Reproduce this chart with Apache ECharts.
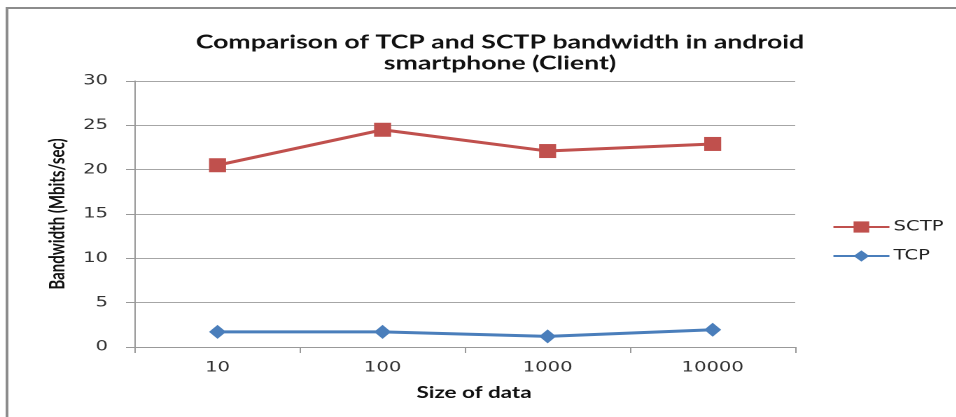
<!DOCTYPE html>
<html><head><meta charset="utf-8">
<script src="https://cdn.jsdelivr.net/npm/echarts@6/dist/echarts.min.js"></script>
<style>
html,body{margin:0;padding:0;background:#fff;overflow:hidden}
#c{width:683px;height:417px;transform:scaleX(1.4);transform-origin:0 0}
</style>
</head><body><div id="c"></div>
<script>
const categories = ['10', '100', '1000', '10000'];
const sctp = [20.5, 24.5, 22.1, 22.9];
const tcp = [1.7, 1.7, 1.2, 1.95];
const yTicks = [0, 5, 10, 15, 20, 25, 30];
const titleText = 'Comparison of TCP and SCTP bandwidth in android\nsmartphone (Client)';

// The reference image is horizontally stretched; the chart is drawn at 1/1.4 width and stretched by CSS.
const SX = 1.4;
const X = v => v / SX;

const chart = echarts.init(document.getElementById('c'), null, { devicePixelRatio: 2 });
chart.setOption({
  animation: false,
  backgroundColor: '#fff',
  graphic: [{
    type: 'polyline', silent: true,
    shape: { points: [[X(7), 417], [X(7), 8], [X(960), 8]] },
    style: { stroke: '#8c8c8c', lineWidth: 2, fill: null }
  }],
  title: {
    text: titleText, left: X(493), top: 27, textAlign: 'center',
    textStyle: { fontFamily: 'Lato', fontWeight: 'bold', fontSize: 19, lineHeight: 21, color: '#111' }
  },
  legend: {
    orient: 'vertical', left: X(832), top: 220, itemGap: 15, padding: 0,
    itemWidth: X(56), itemHeight: 14,
    textStyle: { fontFamily: 'DejaVu Sans', fontSize: 14, color: '#222', padding: [0, 0, 0, -2] },
    data: ['SCTP', 'TCP']
  },
  grid: { left: X(135), right: X(161), top: 81, bottom: 70 },
  xAxis: {
    type: 'category', data: categories, boundaryGap: true,
    name: 'Size of data', nameLocation: 'middle', nameGap: 38,
    nameTextStyle: { fontFamily: 'Lato', fontWeight: 'bold', fontSize: 16, color: '#111', padding: [0, 0, 0, X(18)] },
    axisLine: { lineStyle: { color: '#999', width: 1 } },
    axisTick: { show: true, length: 6, lineStyle: { color: '#999' } },
    axisLabel: { fontFamily: 'DejaVu Sans', fontSize: 14, color: '#333', margin: 14 },
    splitLine: { show: false }
  },
  yAxis: {
    type: 'value', min: 0, max: 30, interval: 5,
    name: 'Bandwidth (Mbits/sec)', nameLocation: 'middle', nameGap: X(62), nameRotate: 90,
    nameTextStyle: { fontFamily: 'Lato', fontWeight: 'bold', fontSize: 15, color: '#111' },
    axisLine: { show: true, lineStyle: { color: '#999', width: 1 } },
    axisTick: { show: true, length: X(9), lineStyle: { color: '#999' } },
    axisLabel: { fontFamily: 'DejaVu Sans', fontSize: 14, color: '#333', margin: X(27),
      formatter: v => yTicks.includes(v) ? String(v) : '' },
    splitLine: { show: true, lineStyle: { color: '#a6a6a6', width: 1 } }
  },
  series: [
    { name: 'SCTP', type: 'line', data: sctp, symbol: 'rect', symbolSize: [X(17), 14],
      lineStyle: { color: '#c0504d', width: 3 }, itemStyle: { color: '#c0504d' } },
    { name: 'TCP', type: 'line', data: tcp, symbol: 'diamond', symbolSize: [X(17), 14],
      lineStyle: { color: '#4a7ebb', width: 3 }, itemStyle: { color: '#4a7ebb' } }
  ]
});
</script></body></html>
